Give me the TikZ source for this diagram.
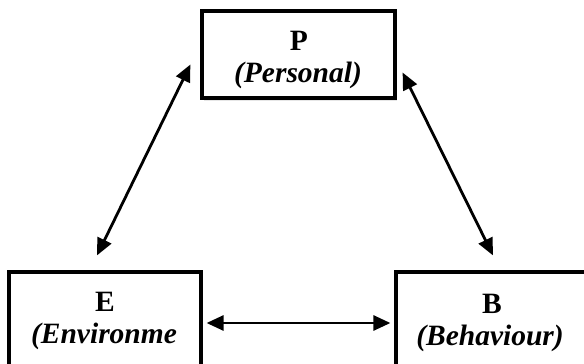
\documentclass[tikz,border=0pt]{standalone}
\usepackage{fontspec}
\setmainfont{Liberation Serif}
\usetikzlibrary{arrows.meta,shadows,calc}
\begin{document}
\begin{tikzpicture}[x=1pt,y=-1pt,
  box/.style={draw=black, line width=3.2pt, fill=white, rectangle, inner sep=0pt,
    drop shadow={shadow xshift=2pt, shadow yshift=-3pt, opacity=0.2}},
  lbl/.style={anchor=base, font=\fontsize{29.5}{34}\selectfont\bfseries, inner sep=0pt},
  conn/.style={line width=2.8pt, {Triangle[length=17pt,width=15pt]}-{Triangle[length=17pt,width=15pt]}}]
\path[use as bounding box] (0,0) rectangle (584,364);
\clip (0,0) rectangle (584,364);
\node[box, minimum width=193pt, minimum height=87pt] (P) at (298.5,54.5) {};
\node[box, minimum width=192pt, minimum height=108pt] (E) at (105,326) {};
\node[box, minimum width=194pt, minimum height=108pt] (B) at (493,326) {};
\node[lbl] (Pa) at (299,50) {P};
\node[lbl] (Pb) at (298,82) {\itshape (Personal)};
\node[lbl] (Ea) at (105,311) {E};
\node[lbl] (Eb) at (104,343) {\itshape (Environme};
\node[lbl] (Ba) at (492,313) {B};
\node[lbl] (Bb) at (490,345) {\itshape (Behaviour)};
\coordinate (l1) at ($(P.west)+(-10,10)$);
\coordinate (l2) at ($(E.north)+(-8,-15)$);
\coordinate (r1) at ($(P.east)+(6,18)$);
\coordinate (r2) at ($(B.north)+(0,-15)$);
\coordinate (h1) at ($(E.east)+(4,-3)$);
\coordinate (h2) at ($(B.west)+(-4,-3)$);
\draw[conn] (l1) -- (l2);
\draw[conn] (r1) -- (r2);
\draw[conn] (h1) -- (h2);
\end{tikzpicture}
\end{document}
